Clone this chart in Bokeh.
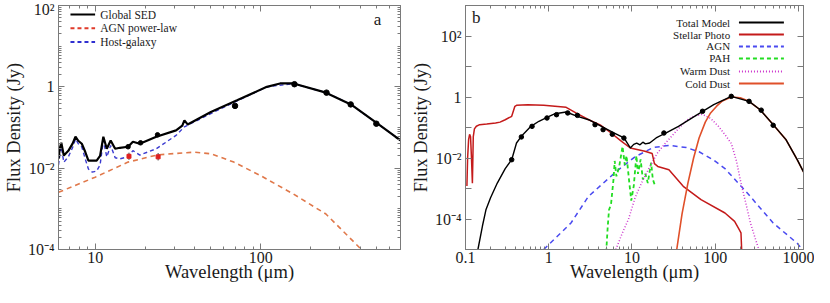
import numpy as np
from bokeh.plotting import figure
from bokeh.layouts import row
from bokeh.models import (FixedTicker, CustomJSTickFormatter, LogAxis, Label, Arrow,
                          CustomLabelingPolicy)
from bokeh.embed import file_html
from bokeh.resources import INLINE

FONT = "Liberation Serif"

# ---------------- Panel a data ----------------
a_sed_wl = [6.0, 6.1, 6.24, 6.46, 6.88, 7.3, 7.6, 7.9, 8.3, 8.7, 9.1, 10.2, 10.7, 11.2, 11.75,
            12.4, 13.2, 14.1, 15.8, 16.9, 18.6, 23.4, 30.8, 33.6, 34.6, 36.2, 50, 72, 109,
            131, 158, 248, 351, 509, 652, 700]
a_sed_flux = [0.017, 0.03, 0.042, 0.0205, 0.0267, 0.04, 0.0593, 0.0472, 0.0398, 0.0253, 0.0154,
              0.0154, 0.0201, 0.0593, 0.030, 0.048, 0.030, 0.0317, 0.0336, 0.0446, 0.0398, 0.0593,
              0.0848, 0.111, 0.150, 0.119, 0.241, 0.467, 1.0, 1.21, 1.21, 0.72, 0.37, 0.124,
              0.0593, 0.0486]
a_host_wl = [6.0, 6.15, 6.24, 6.46, 6.88, 7.3, 7.6, 7.9, 8.3, 8.7, 9.1, 9.6, 10.2, 10.7, 11.2,
             11.75, 12.4, 13.2, 14.1, 15.8, 16.9, 18.6, 23.4, 30.8, 34.6, 50, 72, 109, 158, 248,
             351, 509, 700]
a_host_flux = [0.012, 0.025, 0.034, 0.014, 0.019, 0.032, 0.052, 0.04, 0.033, 0.017, 0.0095, 0.008,
               0.0085, 0.012, 0.048, 0.019, 0.036, 0.018, 0.017, 0.019, 0.027, 0.021, 0.030, 0.064,
               0.104, 0.22, 0.45, 1.0, 1.2, 0.72, 0.37, 0.124, 0.048]
a_agn_wl = [6.0, 10, 15.8, 23.9, 39.7, 50, 68.8, 99.5, 158, 248, 395, 430]
a_agn_flux = [0.00255, 0.006, 0.0141, 0.0213, 0.0248, 0.0226, 0.0141, 0.0066, 0.0023, 0.000745,
              0.000112, 0.00007]
a_phot_wl = [70, 160, 250, 350, 500]
a_phot_flux = [0.34, 1.16, 0.72, 0.37, 0.124]
a_irs_wl = [15.8, 18.8, 23.8]
a_irs_flux = [0.0336, 0.042, 0.066]
a_mips_wl = [16, 24]
a_mips_flux = [0.0196, 0.019]
a_mips_lo = [0.0160, 0.0155]
a_mips_hi = [0.0240, 0.0235]
a_xticks = [10, 100]
a_ylabel_ticks = [1e-4, 1e-2, 1, 100]
a_yodd_ticks = [1e-3, 1e-1, 10]

# ---------------- Panel b data ----------------
b_total_wl = [0.141, 0.16, 0.176, 0.2, 0.241, 0.3, 0.359, 0.41, 0.469, 0.611, 0.762, 0.953, 1.19,
              1.62, 2.21, 3.02, 4.30, 6.14, 8.02, 9.55, 10.5, 11.4, 12.5, 13.5, 14.5, 16.3, 19.5,
              25.4, 36.2, 56.4, 96, 156, 255, 347, 497, 708, 966, 1150]
b_total_flux = [1e-5, 6e-5, 2.0e-4, 5e-4, 0.00151, 0.0045, 0.0088, 0.031, 0.0514, 0.109, 0.16,
                0.216, 0.283, 0.322, 0.233, 0.18, 0.109, 0.066, 0.0453, 0.0213, 0.028, 0.031,
                0.027, 0.033, 0.029, 0.031, 0.0453, 0.066, 0.109, 0.233, 0.56, 1.05, 0.72, 0.38,
                0.124, 0.040, 0.0088, 0.0035]
b_phot_wl = [0.359, 0.469, 0.63, 0.953, 1.24, 1.69, 2.21, 3.6, 4.5, 5.8, 8.0, 24.2, 70.4, 156,
             255, 357, 497]
b_phot_flux = [0.0088, 0.049, 0.109, 0.205, 0.263, 0.30, 0.25, 0.124, 0.085, 0.06, 0.045, 0.066,
               0.34, 1.05, 0.72, 0.37, 0.118]
b_stellar_wl = [0.104, 0.106, 0.109, 0.112, 0.115, 0.118, 0.121, 0.124, 0.128, 0.135, 0.148, 0.18,
                0.23, 0.26, 0.30, 0.359, 0.392, 0.41, 0.56, 0.87, 1.62, 2.12, 3.02, 4.15, 5.61,
                7.5, 9.55, 11.5, 14.3, 17.5, 18.6, 20.4, 27.8, 41.3, 67.5, 131, 171, 190, 204, 210]
b_stellar_flux = [1.2e-3, 0.01, 0.04, 0.06, 0.05, 0.01, 1.5e-3, 0.05, 0.09, 0.11, 0.124, 0.13,
                  0.14, 0.15, 0.18, 0.233, 0.496, 0.534, 0.56, 0.534, 0.46, 0.30, 0.18, 0.121,
                  0.066, 0.035, 0.0213, 0.019, 0.0166, 0.014, 0.0065, 0.0053, 0.0041, 0.00118,
                  0.00043, 0.000157, 8.4e-5, 5e-5, 3.5e-5, 5e-6]
b_agn_wl = [0.87, 1.85, 3.0, 6.4, 10.9, 18, 28, 45, 64, 96, 131, 243, 497, 966, 1150]
b_agn_flux = [1e-5, 7.4e-5, 5.5e-4, 0.0035, 0.011, 0.022, 0.026, 0.022, 0.016, 0.0085, 0.0045,
              7.1e-4, 7.4e-5, 1.6e-5, 9e-6]
b_pah_wl = [4.9, 5.1, 5.3, 5.6, 6.0, 6.2, 6.5, 7.0, 7.7, 8.2, 8.6, 9.2, 9.8, 10.5, 11.3, 11.8,
            12.7, 13.5, 14.5, 15.5, 16.4, 17.0, 17.8, 19.0]
b_pah_flux = [8e-6, 5e-5, 2e-4, 3e-4, 0.002, 0.008, 0.0025, 0.005, 0.024, 0.006, 0.012, 0.002,
              4e-4, 0.0012, 0.012, 0.003, 0.009, 0.002, 0.003, 0.0015, 0.004, 0.007, 0.002, 0.0012]
b_warm_wl = [6.4, 7.5, 9.1, 10.9, 13, 15.6, 20, 25, 36, 45, 56, 70, 88, 109, 130, 156, 180, 204,
             235, 265, 300, 334]
b_warm_flux = [1e-5, 3e-5, 1e-4, 5e-4, 1.5e-3, 4e-3, 0.014, 0.03, 0.09, 0.17, 0.24, 0.27, 0.2,
               0.11, 0.06, 0.03, 0.008, 0.0015, 3e-4, 7.4e-5, 2.5e-5, 1e-5]
b_cold_wl = [34.5, 40, 47, 55, 64, 76, 88, 104, 120, 156, 200, 255, 347, 497, 708, 966, 1150]
b_cold_flux = [1e-5, 1.5e-4, 0.0015, 0.01, 0.045, 0.15, 0.3, 0.5, 0.72, 1.0, 0.95, 0.72, 0.38,
               0.124, 0.040, 0.0088, 0.0035]
b_xticks = [0.1, 1, 10, 100, 1000]
b_ylabel_ticks = [1e-4, 1e-2, 1, 100]
b_yodd_ticks = [1e-5, 1e-3, 1e-1, 10, 1000]

a_legend = [("Global SED", "black", "solid"), ("AGN power-law", "#e03a2a", "dashed"),
            ("Host-galaxy", "#2f2fd0", "dashed")]
b_legend = [("Total Model", "black", "solid"), ("Stellar Photo", "#c41a1a", "solid"),
            ("AGN", "#4a4af0", "dashed"), ("PAH", "#22dd22", "dashed"),
            ("Warm Dust", "#cc33cc", "dotted"), ("Cold Dust", "#e0502a", "solid")]

DASH = {"solid": "solid", "dashed": "4 3", "dotted": "1 2"}


def yfmt():
    return CustomJSTickFormatter(code="""
const e = Math.round(Math.log10(tick));
if (e == 0) return "1";
if (e == 2) return "10\u00b2";
if (e == -2) return "10\u207b\u00b2";
if (e == -4) return "10\u207b\u2074";
return String(tick);
""")


def xfmt():
    return CustomJSTickFormatter(code="return String(tick);")


def no_labels():
    return CustomLabelingPolicy(code="for (const i of indices) { indices.unset(i) }\nreturn indices")


def minor_list(lo, hi):
    out = []
    e = int(np.floor(np.log10(lo)))
    while 10 ** e <= hi:
        for m in range(2, 10):
            v = m * 10.0 ** e
            if lo <= v <= hi:
                out.append(v)
        e += 1
    return out


def frac(lo, hi, f):
    return 10 ** (np.log10(lo) + f * (np.log10(hi) - np.log10(lo)))


def style_axis(ax):
    ax.axis_line_color = "#7a7a7a"
    ax.major_tick_line_color = "#7a7a7a"
    ax.minor_tick_line_color = "#7a7a7a"
    ax.major_tick_in = 6
    ax.major_tick_out = 0
    ax.minor_tick_out = 0
    ax.major_label_text_font = FONT
    ax.major_label_text_font_size = "16px"
    ax.major_label_text_color = "#1a1a1a"
    ax.axis_label_text_font = FONT
    ax.axis_label_text_font_size = "18.5px"
    ax.axis_label_text_font_style = "normal"
    ax.axis_label_text_color = "#1a1a1a"


def make_fig(xr, yr, width, bl, br, xticks, ylab, yodd, ysub):
    p = figure(x_axis_type="log", y_axis_type="log", x_range=xr, y_range=yr,
               width=width, height=287, output_backend="svg", toolbar_location=None,
               min_border_left=bl, min_border_right=br, min_border_top=5, min_border_bottom=38)
    p.grid.visible = False
    p.outline_line_color = "#7a7a7a"
    bottom = p.below[0]
    left = p.left[0]
    xt = FixedTicker(ticks=xticks, minor_ticks=minor_list(*xr))
    ymin = list(yodd) + (minor_list(*yr) if ysub else [])
    yt = FixedTicker(ticks=ylab, minor_ticks=ymin)
    bottom.ticker = xt
    left.ticker = yt
    bottom.formatter = xfmt()
    left.formatter = yfmt()
    top = LogAxis(ticker=xt, formatter=xfmt(), major_label_policy=no_labels())
    right = LogAxis(ticker=yt, formatter=yfmt(), major_label_policy=no_labels())
    p.add_layout(top, "above")
    p.add_layout(right, "right")
    for ax in (bottom, left, top, right):
        style_axis(ax)
    mtin = 3 if ysub else 6
    for ax in (left, right):
        ax.minor_tick_in = mtin
    for ax in (bottom, top):
        ax.minor_tick_in = 3
    for ax in (top, right):
        ax.major_label_text_color = None
        ax.major_label_text_font_size = "0px"
        ax.major_label_standoff = 0
        ax.axis_label_standoff = 0
    bottom.axis_label = "Wavelength (\u03bcm)"
    left.axis_label = "Flux Density (Jy)"
    bottom.major_label_standoff = 2
    bottom.axis_label_standoff = -4
    left.major_label_standoff = 4
    left.axis_label_standoff = 1
    return p


def add_legend(p, xr, yr, items, x0, x1, xt, ys, align, fs):
    for (name, col, style), yf in zip(items, ys):
        yv = frac(*yr, yf)
        p.add_layout(Arrow(end=None, x_start=frac(*xr, x0), y_start=yv, x_end=frac(*xr, x1),
                           y_end=yv, line_color=col, line_width=2, line_dash=DASH[style]))
        p.add_layout(Label(x=frac(*xr, xt), y=yv, text=name, text_font=FONT,
                           text_font_size=fs, text_align=align, text_baseline="middle",
                           text_color="#1a1a1a"))


# ---------------- Panel a ----------------
A_X = (6, 700)
A_Y = (1e-4, 1e2)
pa = make_fig(A_X, A_Y, 407, 55, 7, a_xticks, a_ylabel_ticks, a_yodd_ticks, True)
pa.line(a_agn_wl, a_agn_flux, line_color="#e0784a", line_width=1.6, line_dash="5 4")
pa.line(a_host_wl, a_host_flux, line_color="#3a3ad0", line_width=1.4, line_dash="4 3")
pa.line(a_sed_wl, a_sed_flux, line_color="black", line_width=2.2)
pa.segment(a_mips_wl, a_mips_lo, a_mips_wl, a_mips_hi, line_color="#333333", line_width=1)
pa.scatter(a_mips_wl, a_mips_flux, marker="square", size=4, color="#e02020")
pa.scatter(a_irs_wl, a_irs_flux, size=4.5, color="black")
pa.scatter(a_phot_wl, a_phot_flux, size=5.5, color="black")
add_legend(pa, A_X, A_Y, a_legend, 0.035, 0.107, 0.122, [0.963, 0.907, 0.850], "left", "11.5px")
pa.add_layout(Label(x=frac(*A_X, 0.933), y=frac(*A_Y, 0.943), text="a", text_font=FONT,
                    text_font_size="17px", text_align="center", text_baseline="middle",
                    text_color="#1a1a1a"))

# ---------------- Panel b ----------------
B_X = (0.1, 1150)
B_Y = (1e-5, 1e3)
pb = make_fig(B_X, B_Y, 407, 58, 11, b_xticks, b_ylabel_ticks, b_yodd_ticks, False)
pb.line(b_agn_wl, b_agn_flux, line_color="#4a4af0", line_width=1.5, line_dash="5 4")
pb.line(b_pah_wl, b_pah_flux, line_color="#22dd22", line_width=1.8, line_dash="4 3")
pb.line(b_warm_wl, b_warm_flux, line_color="#cc33cc", line_width=1.5, line_dash="1 2")
pb.line(b_stellar_wl, b_stellar_flux, line_color="#c41a1a", line_width=1.5)
pb.line(b_cold_wl, b_cold_flux, line_color="#e0502a", line_width=1.6)
pb.line(b_total_wl, b_total_flux, line_color="black", line_width=1.4)
pb.scatter(b_phot_wl, b_phot_flux, size=4.5, color="black")
add_legend(pb, B_X, B_Y, b_legend, 0.809, 0.942, 0.783,
           [0.930, 0.881, 0.832, 0.783, 0.730, 0.680], "right", "11px")
pb.add_layout(Label(x=frac(*B_X, 0.032), y=frac(*B_Y, 0.951), text="b", text_font=FONT,
                    text_font_size="17px", text_align="center", text_baseline="middle",
                    text_color="#1a1a1a"))

layout = row(pa, pb)
open("out.html", "w").write(file_html(layout, INLINE))
